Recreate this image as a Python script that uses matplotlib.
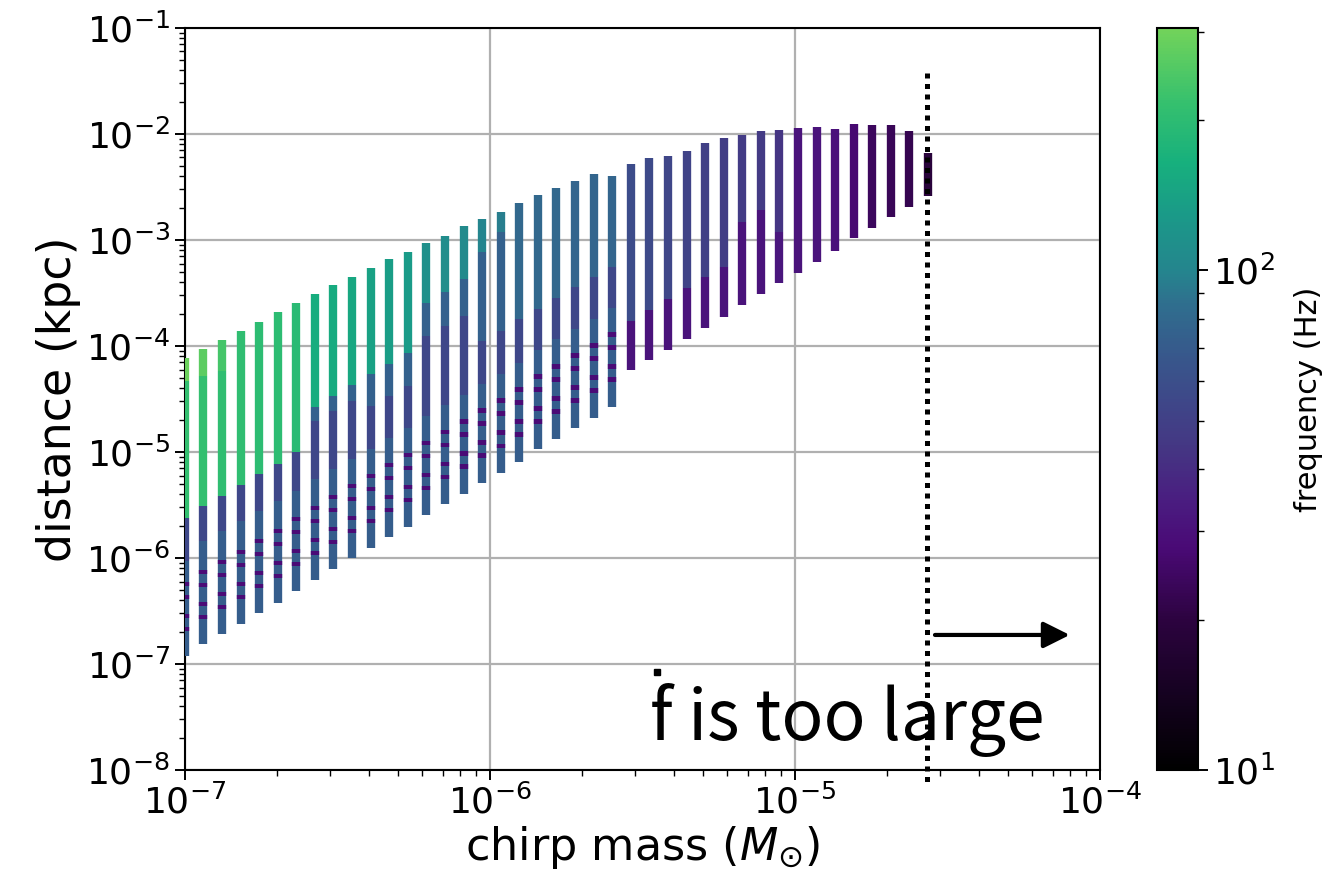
import matplotlib
matplotlib.use('Agg')
import matplotlib.pyplot as plt
from matplotlib.collections import LineCollection
from matplotlib.colors import LinearSegmentedColormap, LogNorm
from matplotlib.cm import ScalarMappable

# chirp mass of each column (M_sun)
chirp_mass = [1.000e-7, 1.150e-7, 1.323e-7, 1.522e-7, 1.751e-7, 2.015e-7, 2.318e-7,
              2.667e-7, 3.069e-7, 3.531e-7, 4.064e-7, 4.675e-7, 5.379e-7, 6.189e-7,
              7.121e-7, 8.193e-7, 9.428e-7, 1.085e-6, 1.248e-6, 1.436e-6, 1.652e-6,
              1.901e-6, 2.187e-6, 2.517e-6, 2.896e-6, 3.332e-6, 3.834e-6, 4.411e-6,
              5.075e-6, 5.840e-6, 6.714e-6, 7.726e-6, 8.888e-6, 1.023e-5, 1.177e-5,
              1.354e-5, 1.558e-5, 1.792e-5, 2.062e-5, 2.373e-5, 2.729e-5]

# log10 distance (kpc) of the band edges in each column, top to bottom
log_edges = [
    [-4.110, -4.327, -5.622, -6.028, -6.926],
    [-4.025, -4.280, -5.508, -5.839, -6.813],
    [-3.940, -4.233, -5.414, -5.745, -6.718],
    [-3.854, -5.310, -5.650, -6.624],
    [-3.769, -5.206, -5.556, -6.520],
    [-3.684, -5.112, -5.461, -6.425],
    [-3.599, -4.998, -5.367, -6.312],
    [-3.514, -4.573, -4.705, -5.253, -6.208],
    [-3.429, -4.469, -4.611, -5.159, -6.104],
    [-3.353, -4.365, -4.516, -5.064, -6.000],
    [-3.268, -4.261, -4.563, -4.970, -5.906],
    [-3.183, -4.166, -4.469, -4.866, -5.802],
    [-3.117, -4.062, -4.374, -4.771, -5.707],
    [-3.032, -3.590, -3.902, -4.658, -5.594],
    [-2.966, -3.486, -3.807, -4.554, -5.490],
    [-2.871, -3.372, -3.713, -4.459, -5.395],
    [-2.805, -3.117, -3.949, -4.355, -5.291],
    [-2.739, -2.928, -3.854, -4.261, -5.197],
    [-2.654, -3.741, -4.157, -5.093],
    [-2.578, -3.647, -4.034, -4.970],
    [-2.512, -3.543, -3.930, -4.875],
    [-2.446, -3.448, -3.836, -4.771],
    [-2.380, -3.353, -3.741, -4.677],
    [-2.399, -3.259, -3.637, -4.573],
    [-2.285, -3.760, -4.223],
    [-2.229, -3.656, -4.129],
    [-2.210, -3.561, -4.034],
    [-2.163, -3.457, -3.930],
    [-2.087, -3.353, -3.826],
    [-2.040, -3.259, -3.722],
    [-2.011, -2.834, -3.618],
    [-1.974, -2.720, -3.514],
    [-1.964, -2.928, -3.410],
    [-1.945, -3.316],
    [-1.936, -3.212],
    [-1.955, -3.108],
    [-1.907, -2.985],
    [-1.917, -2.890],
    [-1.917, -2.786],
    [-1.974, -2.692],
    [-2.181, -2.588],
]

# frequency (Hz) of each band
band_freq = [
    [290, 210, 55, 72], [270, 210, 55, 72], [235, 205, 55, 72],
    [205, 55, 72], [200, 55, 72], [200, 55, 72], [195, 55, 72],
    [160, 75, 55, 72], [155, 75, 55, 72], [150, 75, 55, 72],
    [140, 75, 55, 72], [135, 75, 55, 72], [130, 75, 55, 72],
    [115, 75, 55, 72], [110, 75, 55, 72], [105, 75, 55, 72],
    [100, 75, 55, 72], [95, 75, 55, 72],
    [80, 55, 72], [80, 55, 72], [80, 55, 72], [78, 55, 72], [78, 55, 72], [78, 55, 72],
    [58, 31], [56, 31], [54, 31], [52, 31], [50, 31], [48, 31],
    [47, 31], [46, 31], [44, 32],
    [31], [31], [30], [27], [24], [23], [22], [19],
]

# low-frequency points inside the first 24 columns (log10 kpc)
stripe_log = [
    [-6.671, -6.548, -6.369, -6.246], [-6.558, -6.435, -6.256, -6.133],
    [-6.463, -6.340, -6.161, -6.038], [-6.369, -6.246, -6.067, -5.944],
    [-6.265, -6.142, -5.963, -5.840], [-6.170, -6.047, -5.868, -5.745],
    [-6.057, -5.934, -5.755, -5.632], [-5.953, -5.830, -5.651, -5.528],
    [-5.849, -5.726, -5.547, -5.424], [-5.745, -5.622, -5.443, -5.320],
    [-5.651, -5.528, -5.349, -5.226], [-5.547, -5.424, -5.245, -5.122],
    [-5.452, -5.329, -5.150, -5.027], [-5.339, -5.216, -5.037, -4.914],
    [-5.235, -5.112, -4.933, -4.810], [-5.140, -5.017, -4.838, -4.715],
    [-5.036, -4.913, -4.734, -4.611], [-4.942, -4.819, -4.640, -4.517],
    [-4.838, -4.715, -4.536, -4.413], [-4.715, -4.592, -4.413, -4.290],
    [-4.620, -4.497, -4.318, -4.195], [-4.516, -4.393, -4.214, -4.091],
    [-4.422, -4.299, -4.120, -3.997], [-4.318, -4.195, -4.016, -3.893],
]
stripe_freq = 28

mass_limit = 2.7e-5
f_min, f_max = 10, 305

cmap = LinearSegmentedColormap.from_list('freq', [
    (0.00, '#000000'), (0.10, '#150220'), (0.20, '#2c033f'), (0.30, '#4a0a76'),
    (0.36, '#4a1c80'), (0.43, '#453583'), (0.50, '#3e4889'), (0.57, '#365b8c'),
    (0.63, '#2f6f8e'), (0.67, '#25848e'), (0.75, '#1a9a88'), (0.82, '#17b07d'),
    (0.90, '#35c06e'), (1.00, '#72d35a')])
norm = LogNorm(vmin=f_min, vmax=f_max)

fig = plt.figure(figsize=(13.23, 8.91), dpi=100)
ax = fig.add_axes([0.1398, 0.1358, 0.6916, 0.8328])
cax = fig.add_axes([0.8745, 0.1358, 0.031, 0.8328])

segs, vals = [], []
for m, edges, freqs in zip(chirp_mass, log_edges, band_freq):
    for k, f in enumerate(freqs):
        segs.append([(m, 10 ** edges[k]), (m, 10 ** edges[k + 1])])
        vals.append(f)
bands = LineCollection(segs, cmap=cmap, norm=norm, linewidths=6.0,
                       capstyle='butt', zorder=3)
bands.set_array(vals)
ax.add_collection(bands)

half = 0.022
ssegs, svals = [], []
for m, row in zip(chirp_mass, stripe_log):
    for s in row:
        ssegs.append([(m, 10 ** (s + half)), (m, 10 ** (s - half))])
        svals.append(stripe_freq)
stripes = LineCollection(ssegs, cmap=cmap, norm=norm, linewidths=6.0,
                         capstyle='butt', zorder=4)
stripes.set_array(svals)
ax.add_collection(stripes)

ax.set_xscale('log')
ax.set_yscale('log')
ax.set_xlim(1e-7, 1e-4)
ax.set_ylim(1e-8, 1e-1)
ax.grid(True, which='major', color='#b0b0b0', lw=1.6, zorder=0)
ax.set_axisbelow(True)
ax.tick_params(which='major', labelsize=26, length=7, width=1.4)
ax.tick_params(which='minor', length=4, width=1.0)
for sp in ax.spines.values():
    sp.set_linewidth(1.5)
ax.set_xlabel(r'chirp mass ($M_{\odot}$)', fontsize=32, labelpad=2)
ax.set_ylabel('distance (kpc)', fontsize=33, labelpad=4)

# upper limit on chirp mass
ax.plot([mass_limit, mass_limit], [3.8e-2, 7.6e-9], color='k', lw=3.6,
        dashes=(1, 1.1), clip_on=False, zorder=5)
ax.annotate('', xy=(0.967, 0.182), xytext=(0.8197, 0.182), xycoords='axes fraction',
            arrowprops=dict(arrowstyle='-|>', color='k', lw=3, mutation_scale=40,
                            shrinkA=0, shrinkB=0))
ax.text(0.508, 0.04, 'f is too large', transform=ax.transAxes, fontsize=50,
        family=['Noto Sans CJK JP', 'DejaVu Sans'],
        ha='left', va='baseline')
ax.plot([0.516], [0.132], marker='s', ms=5, color='k', transform=ax.transAxes,
        clip_on=False)

cb = fig.colorbar(ScalarMappable(norm=norm, cmap=cmap), cax=cax)
cb.outline.set_linewidth(1.5)
cb.ax.tick_params(which='major', labelsize=26, length=7, width=1.4)
cb.ax.tick_params(which='minor', length=4, width=1.0)
cb.set_label('frequency (Hz)', fontsize=22, labelpad=14)

fig.savefig('out.png', dpi=100)
